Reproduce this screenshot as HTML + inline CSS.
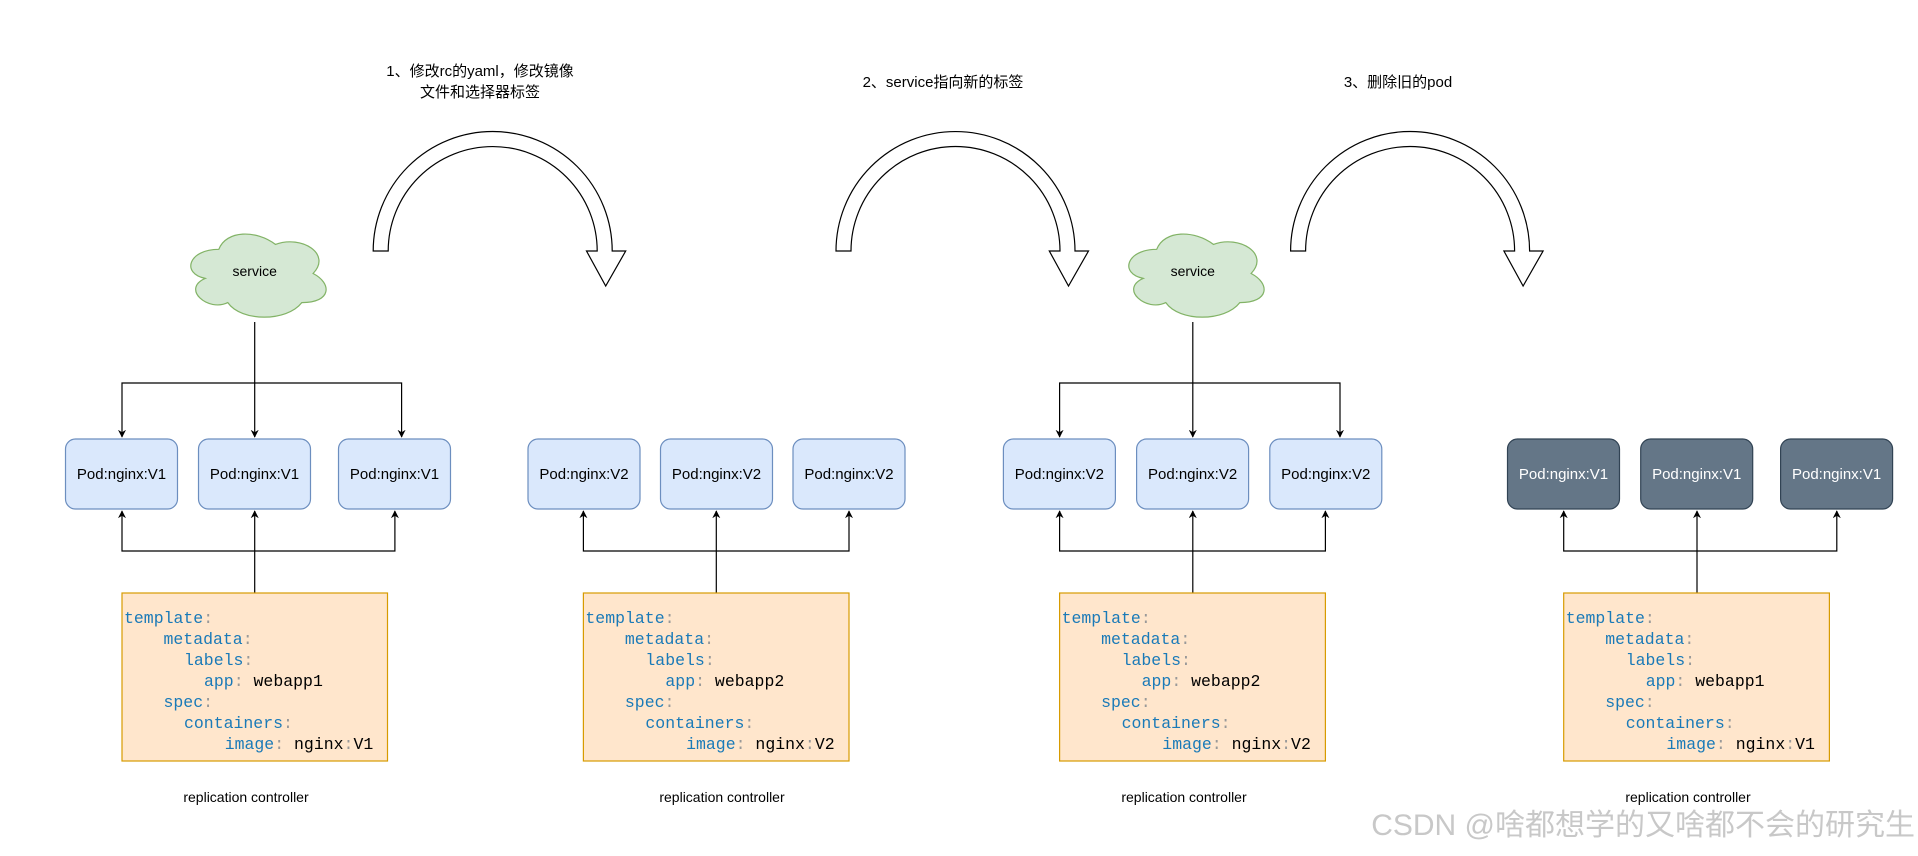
<!DOCTYPE html>
<html><head><meta charset="utf-8"><style>
html,body{margin:0;padding:0;background:#fff;}
svg{display:block;}
.t{font-family:"Liberation Sans","Noto Sans CJK SC",sans-serif;font-size:14px;fill:#000;}
.c{font-family:"Liberation Mono",monospace;font-size:16.5px;}
.k{fill:#1a7ab8;} .p{fill:#999;} .v{fill:#000;}
</style></head><body>
<svg width="1918" height="856" viewBox="0 0 1918 856" xmlns="http://www.w3.org/2000/svg">
<defs>
<marker id="a" viewBox="0 0 10 10" refX="9" refY="5" markerWidth="8" markerHeight="8" orient="auto-start-reverse" markerUnits="userSpaceOnUse"><path d="M0,0 L10,5 L0,10 L3,5 Z" fill="#000"/></marker>
<g id="code1">
<text class="c" x="2" y="30"><tspan class="k">template</tspan><tspan class="p">:</tspan></text>
<text class="c" x="41.5" y="51"><tspan class="k">metadata</tspan><tspan class="p">:</tspan></text>
<text class="c" x="62" y="72"><tspan class="k">labels</tspan><tspan class="p">:</tspan></text>
<text class="c" x="82" y="93"><tspan class="k">app</tspan><tspan class="p">: </tspan><tspan class="v">webapp1</tspan></text>
<text class="c" x="41.5" y="114"><tspan class="k">spec</tspan><tspan class="p">:</tspan></text>
<text class="c" x="62" y="135"><tspan class="k">containers</tspan><tspan class="p">:</tspan></text>
<text class="c" x="102.7" y="156"><tspan class="k">image</tspan><tspan class="p">: </tspan><tspan class="v">nginx</tspan><tspan class="p">:</tspan><tspan class="v">V1</tspan></text>
</g>
<g id="code2">
<text class="c" x="2" y="30"><tspan class="k">template</tspan><tspan class="p">:</tspan></text>
<text class="c" x="41.5" y="51"><tspan class="k">metadata</tspan><tspan class="p">:</tspan></text>
<text class="c" x="62" y="72"><tspan class="k">labels</tspan><tspan class="p">:</tspan></text>
<text class="c" x="82" y="93"><tspan class="k">app</tspan><tspan class="p">: </tspan><tspan class="v">webapp2</tspan></text>
<text class="c" x="41.5" y="114"><tspan class="k">spec</tspan><tspan class="p">:</tspan></text>
<text class="c" x="62" y="135"><tspan class="k">containers</tspan><tspan class="p">:</tspan></text>
<text class="c" x="102.7" y="156"><tspan class="k">image</tspan><tspan class="p">: </tspan><tspan class="v">nginx</tspan><tspan class="p">:</tspan><tspan class="v">V2</tspan></text>
</g>
</defs>

<g fill="#fff" stroke="#000" stroke-width="1.2">
<path d="M373.2,251 A119.5,119.5 0 0 1 612.2,251 L625.7,251 L605.7,286 L586.5,251 L597.2,251 A104.5,104.5 0 0 0 388.2,251 Z"/>
<path d="M836,251 A119.5,119.5 0 0 1 1075,251 L1088.5,251 L1068.5,286 L1049.3,251 L1060,251 A104.5,104.5 0 0 0 851,251 Z"/>
<path d="M1290.6,251 A119.5,119.5 0 0 1 1529.6,251 L1543.1,251 L1523.1,286 L1503.9,251 L1514.6,251 A104.5,104.5 0 0 0 1305.6,251 Z"/>
</g>
<text class="t" x="480" y="76" text-anchor="middle" style="font-size:15px">1、修改rc的yaml，修改镜像</text>
<text class="t" x="480" y="97" text-anchor="middle" style="font-size:15px">文件和选择器标签</text>
<text class="t" x="943" y="87" text-anchor="middle" style="font-size:15px">2、service指向新的标签</text>
<text class="t" x="1398" y="87" text-anchor="middle" style="font-size:15px">3、删除旧的pod</text>

<g fill="#d5e8d4" stroke="#82b366" stroke-width="1.2">
<path d="M218.8,249.3 C188.5,249.3 181,273.5 205.2,278.4 C181,289 208.2,312.3 227.8,302.6 C241.4,322 286.7,322 301.8,302.6 C332,302.6 332,283.2 313.1,273.5 C332,254.1 301.8,234.7 275.4,244.4 C256.5,229.9 226.3,229.9 218.8,249.3 Z"/>
<path d="M1156.7,249.3 C1126.5,249.3 1119,273.5 1143.2,278.4 C1119,289 1146.2,312.3 1165.8,302.6 C1179.4,322 1224.7,322 1239.8,302.6 C1270,302.6 1270,283.2 1251.1,273.5 C1270,254.1 1239.8,234.7 1213.4,244.4 C1194.5,229.9 1164.3,229.9 1156.7,249.3 Z"/>
</g>
<text class="t" x="254.7" y="276" text-anchor="middle">service</text>
<text class="t" x="1192.8" y="276" text-anchor="middle">service</text>

<g stroke="#000" stroke-width="1.2" fill="none">
<path d="M254.7,322 V437" marker-end="url(#a)"/>
<path d="M254.7,383 H122 V437" marker-end="url(#a)"/>
<path d="M254.7,383 H401.6 V437" marker-end="url(#a)"/>
<path d="M254.7,593 V511" marker-end="url(#a)"/>
<path d="M254.7,551 H122 V511" marker-end="url(#a)"/>
<path d="M254.7,551 H394.9 V511" marker-end="url(#a)"/>
<path d="M716.3,593 V511" marker-end="url(#a)"/>
<path d="M716.3,551 H583.4 V511" marker-end="url(#a)"/>
<path d="M716.3,551 H849 V511" marker-end="url(#a)"/>
<path d="M1192.8,322 V437" marker-end="url(#a)"/>
<path d="M1192.8,383 H1059.6 V437" marker-end="url(#a)"/>
<path d="M1192.8,383 H1340 V437" marker-end="url(#a)"/>
<path d="M1192.8,593 V511" marker-end="url(#a)"/>
<path d="M1192.8,551 H1059.6 V511" marker-end="url(#a)"/>
<path d="M1192.8,551 H1325.4 V511" marker-end="url(#a)"/>
<path d="M1697,593 V511" marker-end="url(#a)"/>
<path d="M1697,551 H1563.7 V511" marker-end="url(#a)"/>
<path d="M1697,551 H1836.8 V511" marker-end="url(#a)"/>
</g>

<g fill="#dae8fc" stroke="#6c8ebf" stroke-width="1.2">
<rect x="65.5" y="439" width="112" height="70" rx="10"/>
<rect x="198.5" y="439" width="112" height="70" rx="10"/>
<rect x="338.5" y="439" width="112" height="70" rx="10"/>
<rect x="528" y="439" width="112" height="70" rx="10"/>
<rect x="660.5" y="439" width="112" height="70" rx="10"/>
<rect x="793" y="439" width="112" height="70" rx="10"/>
<rect x="1003.4" y="439" width="112" height="70" rx="10"/>
<rect x="1136.6" y="439" width="112" height="70" rx="10"/>
<rect x="1269.8" y="439" width="112" height="70" rx="10"/>
</g>
<g fill="#647687" stroke="#314354" stroke-width="1.2">
<rect x="1507.5" y="439" width="112" height="70" rx="10"/>
<rect x="1640.7" y="439" width="112" height="70" rx="10"/>
<rect x="1780.6" y="439" width="112" height="70" rx="10"/>
</g>
<g class="t" text-anchor="middle" style="font-size:15px">
<text x="121.5" y="479">Pod:nginx:V1</text>
<text x="254.5" y="479">Pod:nginx:V1</text>
<text x="394.5" y="479">Pod:nginx:V1</text>
<text x="584" y="479">Pod:nginx:V2</text>
<text x="716.5" y="479">Pod:nginx:V2</text>
<text x="849" y="479">Pod:nginx:V2</text>
<text x="1059.4" y="479">Pod:nginx:V2</text>
<text x="1192.6" y="479">Pod:nginx:V2</text>
<text x="1325.8" y="479">Pod:nginx:V2</text>
<text x="1563.5" y="479" style="fill:#fff">Pod:nginx:V1</text>
<text x="1696.7" y="479" style="fill:#fff">Pod:nginx:V1</text>
<text x="1836.6" y="479" style="fill:#fff">Pod:nginx:V1</text>
</g>

<g fill="#ffe6cc" stroke="#d79b00" stroke-width="1.2">
<rect x="122" y="593" width="265.5" height="168"/>
<rect x="583.4" y="593" width="265.6" height="168"/>
<rect x="1059.6" y="593" width="265.8" height="168"/>
<rect x="1563.7" y="593" width="265.7" height="168"/>
</g>

<use href="#code1" x="122" y="593"/>
<use href="#code2" x="583.4" y="593"/>
<use href="#code2" x="1059.6" y="593"/>
<use href="#code1" x="1563.7" y="593"/>

<g class="t" text-anchor="middle">
<text x="246" y="802">replication controller</text>
<text x="722" y="802">replication controller</text>
<text x="1184" y="802">replication controller</text>
<text x="1688" y="802">replication controller</text>
</g>

<text x="1915" y="835" text-anchor="end" style="font-family:'Liberation Sans','Noto Sans CJK SC',sans-serif;font-size:30px;fill:#c8c8c8;">CSDN @啥都想学的又啥都不会的研究生</text>
</svg>
</body></html>
